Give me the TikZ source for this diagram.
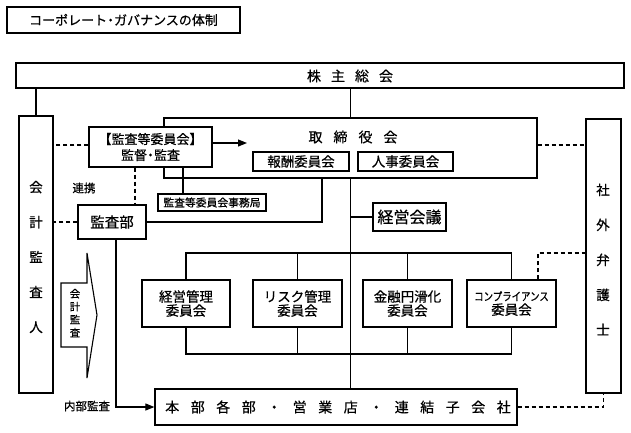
\documentclass[tikz,border=0pt]{standalone}
\usepackage{fontspec}
\setmainfont{Noto Sans CJK JP}[FakeBold=0.6]
\usepackage{graphicx}
\usetikzlibrary{arrows.meta}
\newcommand\fsz[1]{\fontsize{#1}{#1}\selectfont}
\makeatletter
\newcommand\wsp[2]{\def\wsp@g{\kern#1\relax}\wsp@a#2\wsp@end}
\def\wsp@end{\wsp@end}
\def\wsp@a#1{#1\wsp@b}
\def\wsp@b#1{\ifx#1\wsp@end\else\wsp@g#1\expandafter\wsp@b\fi}
\makeatother
\begin{document}
\begin{tikzpicture}[x=1pt,y=-1pt,
 box/.style={draw,line width=1.25pt,inner sep=0pt,fill=white},
 ln/.style={line width=1.1pt},
 dl/.style={line width=1.1pt,dash pattern=on 4pt off 3pt},
 lbl/.style={inner sep=0pt},
 arr/.style={-{Triangle[length=9pt,width=7pt]}}
]
\useasboundingbox[fill=white] (0,0) rectangle (631,432);

% title
\node[box,minimum width=233pt,minimum height=26pt] (title) at (123.5,20) {\fsz{13}コーポレート\kern-3pt・\kern-3ptガバナンスの体制};

% shareholders meeting
\node[box,minimum width=608pt,minimum height=25pt] (kabu) at (320,75.5) {};
\node[lbl] (kabut) at (350,76) {\fsz{14}\wsp{10pt}{株主総会}};

% board
\node[box,minimum width=373pt,minimum height=60pt] (tori) at (350.5,148) {};
\node[lbl] (torit) at (353,137) {\fsz{14}\wsp{11pt}{取締役会}};
\node[box,minimum width=96pt,minimum height=19pt] (hoshu) at (301,161.5) {\fsz{13.5}報酬委員会};
\node[box,minimum width=95pt,minimum height=19pt] (jinji) at (405.5,161.5) {\fsz{13.5}人事委員会};

% audit committee
\node[box,minimum width=123pt,minimum height=40pt,align=center,font=\fontsize{13}{16}\selectfont] (kansa) at (150.5,147) {【監査等委員会】\\監督\kern-3pt・\kern-3pt監査};
\node[box,minimum width=108pt,minimum height=17pt] (jimu) at (212,202.5) {\fsz{10.8}監査等委員会事務局};
\node[box,minimum width=68pt,minimum height=34pt] (kansabu) at (112,222) {\fsz{14.5}監査部};

% management meeting
\node[box,minimum width=73pt,minimum height=28pt] (keiei) at (409.5,217) {\fsz{16}経営会議};

% committees
\node[box,minimum width=88pt,minimum height=47pt,align=center,font=\fontsize{13.5}{14}\selectfont] (c1) at (186,303.5) {経営管理\\委員会};
\node[box,minimum width=89pt,minimum height=47pt,align=center,font=\fontsize{13.5}{14}\selectfont] (c2) at (297.5,303.5) {リスク管理\\委員会};
\node[box,minimum width=89pt,minimum height=47pt,align=center,font=\fontsize{13.5}{14}\selectfont] (c3) at (407.5,303.5) {金融円滑化\\委員会};
\node[box,minimum width=89pt,minimum height=47pt,align=center,font=\fontsize{13.5}{14}\selectfont] (c4) at (511.5,303.5) {\scalebox{0.82}[1]{\fsz{11.5}コンプライアンス}\\委員会};

% accounting auditor and outside lawyer
\node[box,minimum width=34pt,minimum height=277pt] (kaikei) at (36,254.5) {};
\node[lbl,align=center,font=\fontsize{13.5}{35}\selectfont] (kaikeit) at (36,257) {会\\計\\監\\査\\人};
\node[box,minimum width=35pt,minimum height=274pt] (shagai) at (603.5,256) {};
\node[lbl,align=center,font=\fontsize{13.5}{35}\selectfont] (shagait) at (603,259.5) {社\\外\\弁\\護\\士};

% operating units
\node[box,minimum width=362pt,minimum height=36pt] (honbu) at (336,407) {};
\node[lbl] (honbut) at (338,407) {\fsz{14}\wsp{11.5pt}{本部各部・営業店・連結子会社}};

% block arrow
\draw[line width=1.1pt,fill=white] (61,283) -- (87,283) -- (87,253) -- (97,315) -- (87,378) -- (87,347) -- (61,347) -- cycle;
\node[lbl,align=center,font=\fontsize{10.5}{13}\selectfont] (kaikeiarr) at (75,313) {会\\計\\監\\査};

% labels
\node[lbl] (renkei) at (84,188) {\fsz{11.5}連携};
\node[lbl] (naibu) at (87,406) {\fsz{11.5}内部監査};

% connectors
\draw[ln] (kaikei.north) -- (kaikei.north |- kabu.south);
\draw[ln] (tori.north) -- (tori.north |- kabu.south);
\coordinate (a1) at ([yshift=4pt]kansa.east);
\coordinate (a1end) at (247,143);
\draw[ln,arr] (a1) -- (a1end);
\coordinate (d1) at ([yshift=2pt]kansa.west);
\draw[dl] (d1) -- (d1 -| kaikei.east);
\draw[dl] (kansabu.west) -- (kansabu.west -| kaikei.east);
\coordinate (d2) at ([xshift=-15.5pt]kansa.south);
\draw[dl] (d2) -- (d2 |- kansabu.north);
\coordinate (d3) at ([xshift=32.5pt]kansa.south);
\draw[ln] (d3) -- (d3 |- jimu.north);
\coordinate (hx) at ([xshift=21pt]hoshu.south);
\draw[ln] (hx |- tori.south) -- (hx |- kansabu.east) -- (kansabu.east);
\draw[ln] (tori.south) -- (tori.south |- honbu.north);
\draw[ln] (keiei.west) -- (keiei.west -| tori.south);
\coordinate (ub) at (0,253);
\coordinate (lb) at (0,354);
\draw[ln] (c1.north) -- (c1.north |- ub) -- (c4.north |- ub) -- (c4.north);
\draw[ln] (c2.north) -- (c2.north |- ub);
\draw[ln] (c3.north) -- (c3.north |- ub);
\draw[ln] (c1.south) -- (c1.south |- lb) -- (c4.south |- lb) -- (c4.south);
\draw[ln] (c2.south) -- (c2.south |- lb);
\draw[ln] (c3.south) -- (c3.south |- lb);
\coordinate (d4) at ([xshift=26.5pt]c4.north);
\draw[dl] (d4) -- (d4 |- ub) -- (ub -| shagai.west);
\coordinate (d5) at ([yshift=3pt]tori.east);
\draw[dl] (d5) -- (d5 -| shagai.west);
\draw[dl] (honbu.east) -- (honbu.east -| shagai.south) -- (shagai.south);
\coordinate (kb) at ([xshift=4pt]kansabu.south);
\draw[ln,arr] (kb) -- (kb |- honbu.west) -- (honbu.west);
\end{tikzpicture}
\end{document}
